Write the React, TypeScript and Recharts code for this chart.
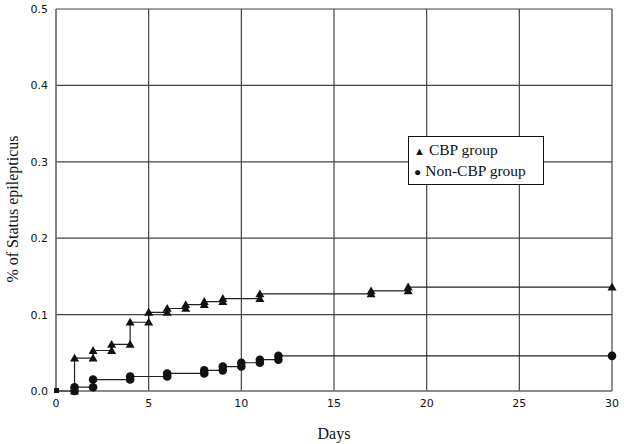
import React from "react";
import { LineChart, Line, XAxis, YAxis, CartesianGrid } from "recharts";

const cbpDays = [0, 1, 2, 3, 4, 5, 6, 7, 8, 9, 11, 17, 19, 30];
const cbpValues = [0, 0.043, 0.053, 0.061, 0.09, 0.103, 0.108, 0.113, 0.117, 0.121, 0.127, 0.131, 0.136, 0.136];
const nonCbpDays = [0, 1, 2, 4, 6, 8, 9, 10, 11, 12, 30];
const nonCbpValues = [0, 0.005, 0.015, 0.019, 0.023, 0.027, 0.032, 0.037, 0.041, 0.046, 0.046];
const xTicks = [0, 5, 10, 15, 20, 25, 30];
const yTicks = [0, 0.1, 0.2, 0.3, 0.4, 0.5];

function stepPoints(days: number[], vals: number[]) {
  const pts: { day: number; v: number }[] = [{ day: days[0], v: vals[0] }];
  for (let i = 1; i < days.length; i++) {
    if (vals[i] !== vals[i - 1]) pts.push({ day: days[i], v: vals[i - 1] });
    pts.push({ day: days[i], v: vals[i] });
  }
  return pts;
}

const cbpData = stepPoints(cbpDays, cbpValues);
const nonCbpData = stepPoints(nonCbpDays, nonCbpValues);

const Tri = (props: any) => {
  const { cx, cy, index } = props;
  if (cx == null || cy == null) return null;
  if (index === 0) return <rect key={index} x={cx - 2} y={cy - 3} width={5} height={5} fill="#111" />;
  const s = 4.5;
  return (
    <path
      key={index}
      d={`M${cx},${cy - s} L${cx + s},${cy + s * 0.75} L${cx - s},${cy + s * 0.75} Z`}
      fill="#111"
    />
  );
};

const Dot = (props: any) => {
  const { cx, cy, index } = props;
  if (cx == null || cy == null) return null;
  if (index === 0) return null;
  return <circle key={index} cx={cx} cy={cy} r={4.3} fill="#111" />;
};

const YTitle = (props: any) => {
  const vb = props.viewBox || { x: 0, y: 9, width: 56, height: 382 };
  const cx = vb.x + 12;
  const cy = vb.y + vb.height / 2 + 9;
  return (
    <text
      x={cx}
      y={cy}
      transform={`rotate(-90 ${cx} ${cy})`}
      textAnchor="middle"
      dominantBaseline="central"
      fill="#111"
      fontSize={16}
      fontFamily="'Liberation Serif', serif"
    >
      % of Status epilepticus
    </text>
  );
};

const LegendBox = () => (
  <div
    style={{
      position: "absolute",
      left: 408,
      top: 136,
      border: "1px solid #111",
      background: "#fff",
      width: 136,
      height: 49,
      boxSizing: "border-box",
      fontFamily: "'Liberation Serif', 'Times New Roman', serif",
      fontSize: 15.5,
      color: "#111",
      padding: "3px 0 0 5px",
      lineHeight: "20px",
    }}
  >
    <div>
      <span style={{ fontSize: 11, marginRight: 4 }}>▲</span>CBP group
    </div>
    <div>
      <span style={{ fontSize: 12, marginRight: 4 }}>●</span>Non-CBP group
    </div>
  </div>
);

export default function App() {
  return (
    <div style={{ position: "absolute", left: 0, top: 0, width: 624, height: 444, background: "#fff" }}>
      <LineChart width={624} height={444} margin={{ top: 9, right: 12, bottom: 0, left: 0 }}>
        <CartesianGrid stroke="#444" strokeWidth={1.2} vertical horizontal />
        <XAxis
          dataKey="day"
          type="number"
          domain={[0, 30]}
          ticks={xTicks}
          allowDuplicatedCategory={false}
          height={53}
          stroke="#777"
          tickLine={false}
          tick={{ fill: "#111", fontSize: 11, fontFamily: "'DejaVu Sans', sans-serif" }}
          label={{
            value: "Days",
            position: "insideBottom",
            offset: 5,
            style: { fill: "#111", fontSize: 16, fontFamily: "'Liberation Serif', serif" },
          }}
        />
        <YAxis
          type="number"
          domain={[0, 0.5]}
          ticks={yTicks}
          width={56}
          stroke="#777"
          tickLine={false}
          tickFormatter={(v: number) => v.toFixed(1)}
          tick={{ fill: "#111", fontSize: 11, fontFamily: "'DejaVu Sans', sans-serif" }}
          label={<YTitle />}
        />
        <Line
          data={cbpData}
          dataKey="v"
          type="linear"
          stroke="#222"
          strokeWidth={1.2}
          dot={<Tri />}
          isAnimationActive={false}
          name="CBP group"
        />
        <Line
          data={nonCbpData}
          dataKey="v"
          type="linear"
          stroke="#222"
          strokeWidth={1.2}
          dot={<Dot />}
          isAnimationActive={false}
          name="Non-CBP group"
        />
      </LineChart>
      <LegendBox />
    </div>
  );
}
